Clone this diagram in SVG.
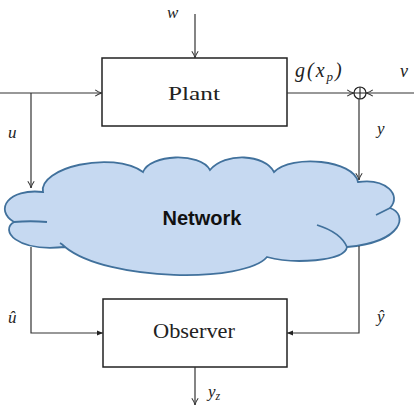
<svg xmlns="http://www.w3.org/2000/svg" width="414" height="407" viewBox="0 0 414 407">
<style>
.ln{fill:none;stroke:#333;stroke-width:1.2}
.box{fill:#fff;stroke:#222;stroke-width:1.5}
.m{font-family:"Liberation Serif",serif;font-style:italic;fill:#222}
.r{font-family:"Liberation Serif",serif;fill:#222}
.cloud{fill:#c6d9f1;stroke:#41719c;stroke-width:1.8}
.cin{fill:none;stroke:#41719c;stroke-width:1.8}
</style>
<defs>
<marker id="open" viewBox="0 0 10 10" refX="9.5" refY="5" markerWidth="8" markerHeight="8" markerUnits="userSpaceOnUse" orient="auto">
<path d="M1 1 Q5 4 9.5 5 Q5 6 1 9" fill="none" stroke="#333" stroke-width="1.3"/>
</marker>
<marker id="fill" viewBox="0 0 10 10" refX="10" refY="5" markerWidth="6" markerHeight="6" markerUnits="userSpaceOnUse" orient="auto">
<path d="M0 1 L10 5 L0 9 Z" fill="#222"/>
</marker>
</defs>
<g id="cloud">
<path class="cloud" d="M43 192 C38 168 112 150 143 172 C150 154 200 152 210 170 C225 152 265 154 274 172 C292 154 354 160 358 182 C386 178 402 195 390 208 C408 214 404 242 347 247 C345 262 292 264 267 257 C245 283 108 282 65 247 C15 252 0 230 14 222 C-6 210 8 188 43 192 Z"/>
<path class="cin" d="M14 222 C25 221 36 221 47 222"/>
<path class="cin" d="M65 247 C64 246 62 244 60 243"/>
<path class="cin" d="M376 215 C382 212 386 210 390 208"/>
<path class="cin" d="M317 225 C333 230 343 238 347 247"/>
<text x="202" y="225" text-anchor="middle" font-family="Liberation Sans, sans-serif" font-weight="bold" font-size="20" fill="#111">Network</text>
</g>
<g id="plant">
<rect class="box" x="102" y="58" width="185" height="68"/>
<text class="r" x="194" y="100" text-anchor="middle" font-size="19" textLength="52" lengthAdjust="spacingAndGlyphs">Plant</text>
</g>
<g id="observer">
<rect class="box" x="103" y="299" width="184" height="68"/>
<text class="r" x="194" y="338" text-anchor="middle" font-size="20" textLength="82" lengthAdjust="spacingAndGlyphs">Observer</text>
</g>
<g id="sum">
<circle cx="360" cy="93" r="6" fill="#fff" stroke="#222" stroke-width="1.2"/>
<path d="M354 93 H366 M360 87 V99" stroke="#222" stroke-width="1.1"/>
</g>
<g id="connectors">
<path class="ln" d="M195 14 V58" marker-end="url(#open)"/>
<path class="ln" d="M0 93 H102" marker-end="url(#open)"/>
<path class="ln" d="M31 93 V188" marker-end="url(#open)"/>
<path class="ln" d="M287 93 H354" marker-end="url(#open)"/>
<path class="ln" d="M414 93 H366" marker-end="url(#open)"/>
<path class="ln" d="M359 99 V180" marker-end="url(#open)"/>
<path class="ln" d="M31 247 V333 H103" marker-end="url(#fill)"/>
<path class="ln" d="M359 246 V333 H287" marker-end="url(#fill)"/>
<path class="ln" d="M195 367 V405" marker-end="url(#open)"/>
</g>
<g id="labels">
<text class="m" x="167" y="18" font-size="17">w</text>
<text class="m" x="295" y="77" font-size="20" letter-spacing="2">g(x<tspan font-size="13" dy="4">p</tspan><tspan dy="-4">)</tspan></text>
<text class="m" x="400" y="77" font-size="18">v</text>
<text class="m" x="8" y="138" font-size="17">u</text>
<text class="m" x="377" y="134" font-size="17">y</text>
<text class="m" x="8" y="323" font-size="17">û</text>
<text class="m" x="377" y="322" font-size="17">ŷ</text>
<text class="m" x="208" y="397" font-size="17">y<tspan font-size="12" dy="3">z</tspan></text>
</g>
</svg>
